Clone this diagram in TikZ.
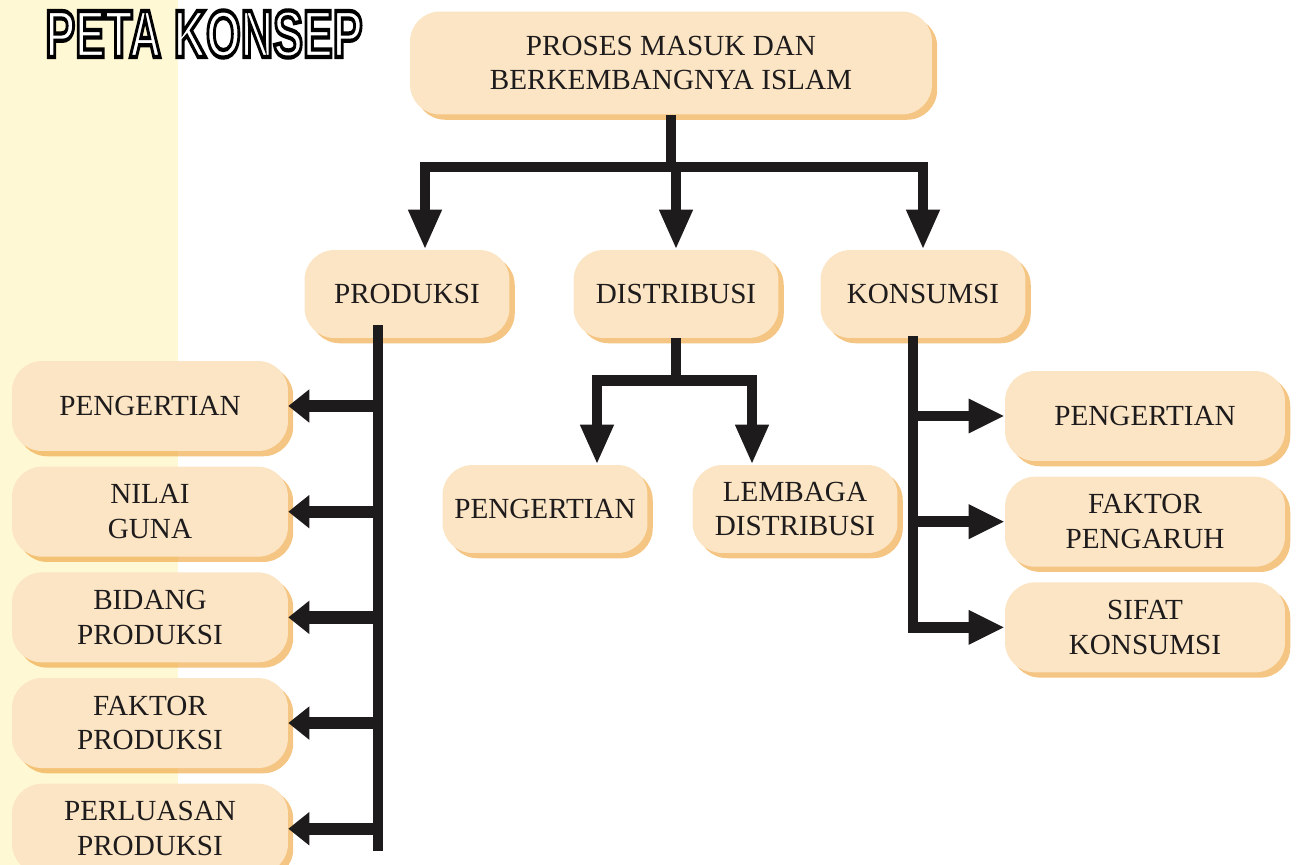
\documentclass[tikz,border=0pt]{standalone}
\usepackage{fontspec}
\setmainfont{Liberation Serif}
\newfontfamily\titlefont{Liberation Sans}
\usetikzlibrary{arrows.meta,positioning,calc,shadows}

\definecolor{boxfill}{RGB}{251,229,197}
\definecolor{boxglow}{RGB}{240,172,78}
\definecolor{bandyellow}{RGB}{255,248,212}
\definecolor{ink}{RGB}{30,27,28}

% white letters with a black outline
\newcommand\outlined[1]{{\color{white}%
  \special{pdf:literal 2 Tr 2.4 w 0 0 0 RG}#1\special{pdf:literal 0 Tr}}}

\begin{document}
\begin{tikzpicture}[
  x=0.02cm, y=-0.02cm,
  B/.style={
    rectangle, rounded corners=0.6cm,
    fill=boxfill, text=ink,
    font=\fontsize{16.6}{19.8}\selectfont, align=center,
    minimum width=4.1cm, minimum height=1.76cm,
    drop shadow={shadow xshift=3pt, shadow yshift=-3pt, fill=boxglow, opacity=0.7}
  },
  T/.style={B, minimum width=10.44cm, minimum height=2.06cm},
  L/.style={B, minimum width=5.52cm, minimum height=1.8cm},
  R/.style={B, minimum width=5.6cm, minimum height=1.8cm},
  line/.style={draw=ink, line width=6pt},
  arr/.style={line, -{Triangle[length=0.8cm, width=0.62cm]}},
  larr/.style={line, line width=7pt, -{Triangle[length=0.42cm, width=0.64cm]}},
  rarr/.style={line, -{Triangle[length=0.72cm, width=0.64cm]}}
]
\useasboundingbox (0,0) rectangle (1301,865);
\fill[bandyellow] (0,0) rectangle (178,865);

\node[T] (top) at (671,63) {PROSES MASUK DAN\\BERKEMBANGNYA ISLAM};

\node[B] (pro) at (407,294) {PRODUKSI};
\node[B] (dis) at (676,294) {DISTRIBUSI};
\node[B] (kon) at (923,294) {KONSUMSI};

% produksi
\node[L] (p1) at (150,406)            {PENGERTIAN};
\node[L, below=0.3cm of p1] (p2)      {NILAI\\GUNA};
\node[L, below=0.3cm of p2] (p3)      {BIDANG\\PRODUKSI};
\node[L, below=0.3cm of p3] (p4)      {FAKTOR\\PRODUKSI};
\node[L, below=0.3cm of p4] (p5)      {PERLUASAN\\PRODUKSI};

% distribusi
\node[B] (d1) at (545,509) {PENGERTIAN};
\node[B] (d2) at (795,509) {LEMBAGA\\DISTRIBUSI};

% konsumsi
\node[R] (k1) at (1145,416)           {PENGERTIAN};
\node[R, below=0.3cm of k1] (k2)      {FAKTOR\\PENGARUH};
\node[R, below=0.3cm of k2] (k3)      {SIFAT\\KONSUMSI};

\draw[arr] (top.south) -- ++(0,52) -| ($(pro.north)+(18,0)$);
\draw[arr] (top.south) -- ++(0,52) -| (dis.north);
\draw[arr] (top.south) -- ++(0,52) -| (kon.north);

\coordinate (ptop) at (378,325);
\coordinate (pend) at (378,851);
\draw[line] (ptop) -- (pend);
\draw[larr] (ptop |- p1.east) -- (p1.east);
\draw[larr] (ptop |- p2.east) -- (p2.east);
\draw[larr] (ptop |- p3.east) -- (p3.east);
\draw[larr] (ptop |- p4.east) -- (p4.east);
\draw[larr] (ptop |- p5.east) -- (p5.east);

\draw[arr] (dis.south) -- ++(0,42) -| ($(d1.north)+(52,0)$);
\draw[arr] (dis.south) -- ++(0,42) -| ($(d2.north)+(-43,0)$);

\coordinate (ktop) at (913,336);
\draw[rarr] (ktop) |- (k3.west);
\draw[rarr] (ktop |- k1.west) -- (k1.west);
\draw[rarr] (ktop |- k2.west) -- (k2.west);

\node (title) at (204,34)
  {\titlefont\bfseries\fontsize{38}{42}\selectfont
   \scalebox{0.67}[1]{\outlined{PETA KONSEP}}};

\end{tikzpicture}
\end{document}
